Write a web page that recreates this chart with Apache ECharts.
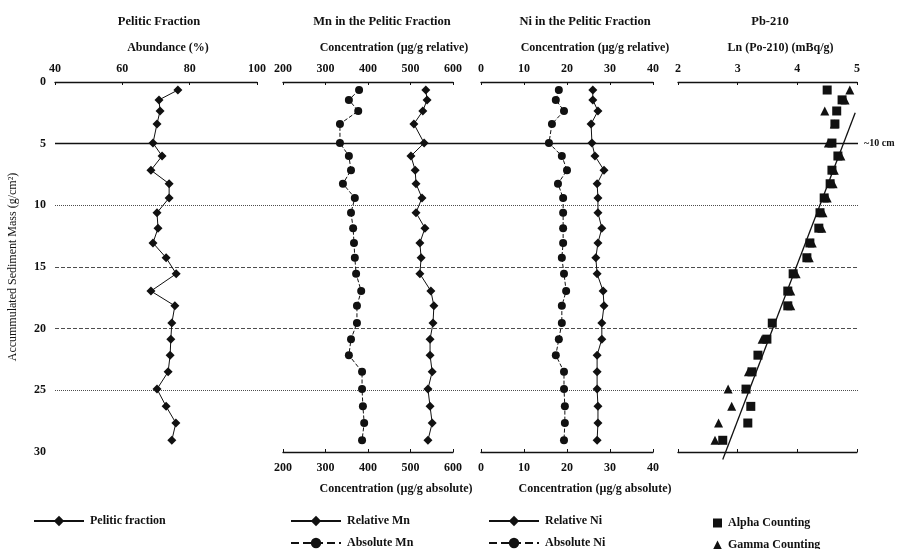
<!DOCTYPE html>
<html><head><meta charset="utf-8">
<script src="https://cdn.jsdelivr.net/npm/echarts@6/dist/echarts.min.js"></script>
<style>html,body{margin:0;padding:0;background:#fff}#c{width:897px;height:549px}</style>
</head><body><div id="c"></div>
<script>
// depth (accumulated sediment mass, g/cm2) shared by all profiles
const depth = [0.65,1.45,2.35,3.4,4.95,6.0,7.15,8.25,9.4,10.6,11.85,13.05,14.25,15.55,16.95,18.15,19.55,20.85,22.15,23.5,24.9,26.3,27.65,29.05];
const pelitic = [76.5,70.9,71.2,70.3,69.1,71.8,68.5,73.9,73.9,70.3,70.6,69.1,73.0,76.0,68.5,75.6,74.7,74.4,74.2,73.6,70.3,73.0,75.9,74.7];
const mnRelative = [536,539,529,508,532,501,511,513,527,513,534,522,525,522,548,555,553,546,546,551,541,546,551,541];
const mnAbsolute = [379,355,377,334,334,355,360,341,369,360,365,367,369,372,384,374,374,360,355,386,386,388,391,386];
const niRelative = [26.0,26.0,27.2,25.6,25.8,26.5,28.6,27.0,27.2,27.2,28.1,27.2,26.7,27.0,28.4,28.6,28.1,28.1,27.0,27.0,27.0,27.2,27.2,27.0];
const niAbsolute = [18.1,17.4,19.3,16.5,15.8,18.8,20.0,17.9,19.1,19.1,19.1,19.1,18.8,19.3,19.8,18.8,18.8,18.1,17.4,19.3,19.3,19.5,19.5,19.3];
const alphaLn = [4.50,4.75,4.66,4.63,4.58,4.68,4.58,4.55,4.45,4.38,4.36,4.21,4.16,3.93,3.84,3.84,3.58,3.49,3.34,3.24,3.14,3.22,3.17,2.75];
const gammaDepth = [0.65,1.45,2.35,3.4,4.95,6.0,7.15,8.25,9.4,10.6,11.85,13.05,14.25,15.55,16.95,18.15,20.85,23.5,24.9,26.3,27.65,29.05];
const gammaLn = [4.88,4.80,4.46,4.62,4.52,4.73,4.62,4.60,4.50,4.43,4.41,4.25,4.20,3.98,3.89,3.89,3.41,3.18,2.84,2.90,2.68,2.62];
const fitLn = [4.97, 2.75];
const fitDepth = [2.5, 30.6];
const yTicks = [0,5,10,15,20,25,30];
const refLines = [5,10,15,20,25];
const refTypes = ['solid','dotted','dashed','dashed','dotted'];

const FONT = 'Liberation Serif';
const INK = '#111';
const zip = (xs, ys) => xs.map((x, i) => [x, ys[i]]);

const grids = [
  {left:55, width:202, top:82, height:370},
  {left:283, width:170, top:82, height:370},
  {left:481, width:172, top:82, height:370},
  {left:678, width:179, top:82, height:370},
  {left:55, right:39, top:82, height:370}
];
const lbl = {fontFamily:FONT, fontWeight:'bold', fontSize:12, color:INK};
function xa(grid, pos, min, max, interval, name, shift, showLabel) {
  return {
    gridIndex:grid, position:pos, type:'value', min:min, max:max, interval:interval,
    name:name, nameLocation:'middle', nameGap: pos==='top'?28:31,
    nameTextStyle:Object.assign({}, lbl, {padding:[0,0,0,shift*2]}),
    axisLine:{show:true, onZero:false, lineStyle:{color:INK, width:1.3}},
    axisTick:{show:true, length:3, inside:true, lineStyle:{color:INK}},
    axisLabel:Object.assign({show:showLabel!==false, margin: pos==='top'?7:10}, lbl),
    splitLine:{show:false}
  };
}
const xAxes = [
  xa(0,'top',40,100,20,'Abundance (%)',12),
  xa(1,'top',200,600,100,'Concentration (µg/g relative)',26),
  xa(1,'bottom',200,600,100,'Concentration (µg/g absolute)',28),
  xa(2,'top',0,40,10,'Concentration (µg/g relative)',28),
  xa(2,'bottom',0,40,10,'Concentration (µg/g absolute)',28),
  xa(3,'top',2,5,1,'Ln (Po-210) (mBq/g)',13),
  xa(3,'bottom',2,5,1,'',0,false),
  {gridIndex:4, type:'value', min:0, max:1, show:false}
];
const yAxes = [0,1,2,3,4].map(g => ({
  gridIndex:g, type:'value', inverse:true, min:0, max:30, interval:5,
  show: g===0,
  name: g===0 ? 'Accummulated Sediment Mass (g/cm²)' : '',
  nameLocation:'middle', nameGap:36, nameRotate:90,
  nameTextStyle:Object.assign({}, lbl, {fontWeight:'normal', fontSize:12}),
  axisLine:{show:false}, axisTick:{show:false}, splitLine:{show:false},
  axisLabel:Object.assign({margin:9}, lbl)
}));

function lineSeries(name, xi, yi, xs, sym, dashed) {
  return {
    name:name, type:'line', xAxisIndex:xi, yAxisIndex:yi, data:zip(xs, depth),
    symbol:sym, symbolSize: sym==='diamond'?9:8,
    itemStyle:{color:INK, opacity:1}, lineStyle:{color:INK, width:1, type: dashed?'dashed':'solid'},
    z:3
  };
}

const legendItems = [
  {name:'Pelitic fraction', left:33, top:515},
  {name:'Relative Mn', left:290, top:515},
  {name:'Absolute Mn', left:290, top:537},
  {name:'Relative Ni', left:488, top:515},
  {name:'Absolute Ni', left:488, top:537},
  {name:'Alpha Counting', left:713, top:517, icon:'rect', w:9},
  {name:'Gamma Counting', left:713, top:539, icon:'triangle', w:9}
];

const option = {
  backgroundColor:'#fff',
  animation:false,
  textStyle:{fontFamily:FONT},
  title:[
    {text:'Pelitic Fraction', left:154, top:10, textAlign:'center'},
    {text:'Mn in the Pelitic Fraction', left:377, top:10, textAlign:'center'},
    {text:'Ni in the Pelitic Fraction', left:580, top:10, textAlign:'center'},
    {text:'Pb-210', left:765, top:10, textAlign:'center'}
  ].map(t => Object.assign(t, {textStyle:Object.assign({}, lbl, {fontSize:12.5})})),
  grid:grids,
  xAxis:xAxes,
  yAxis:yAxes,
  legend: legendItems.map(it => ({
    data:[it.icon ? {name:it.name, icon:it.icon} : it.name],
    left:it.left, top:it.top, padding:0,
    itemWidth: it.w || 50, itemHeight: it.w ? 9 : 13,
    textStyle:Object.assign({}, lbl, {padding:[0,0,0,1]})
  })),
  series:[
    {
      name:'ref', type:'line', xAxisIndex:7, yAxisIndex:4, data:[[0,0]], symbol:'none',
      lineStyle:{opacity:0}, silent:true, z:1,
      markLine:{
        symbol:['none','none'], silent:true, animation:false,
        data: refLines.map((d, i) => ({
          yAxis:d,
          lineStyle:{type:refTypes[i], color:INK, width: i===0?1.3:1, opacity: i===0?1:0.75},
          label: i===0 ? {show:true, position:'end', formatter:'~10 cm', distance:6, fontFamily:FONT, fontWeight:'bold', fontSize:10, color:INK} : {show:false}
        }))
      }
    },
    lineSeries('Pelitic fraction', 0, 0, pelitic, 'diamond', false),
    lineSeries('Relative Mn', 1, 1, mnRelative, 'diamond', false),
    lineSeries('Absolute Mn', 2, 1, mnAbsolute, 'circle', true),
    lineSeries('Relative Ni', 3, 2, niRelative, 'diamond', false),
    lineSeries('Absolute Ni', 4, 2, niAbsolute, 'circle', true),
    {name:'Alpha Counting', type:'scatter', xAxisIndex:5, yAxisIndex:3, data:zip(alphaLn, depth),
     symbol:'rect', symbolSize:9, itemStyle:{color:INK, opacity:1}, z:3},
    {name:'Gamma Counting', type:'scatter', xAxisIndex:5, yAxisIndex:3, data:zip(gammaLn, gammaDepth),
     symbol:'triangle', symbolSize:9, itemStyle:{color:INK, opacity:1}, z:3},
    {name:'fit', type:'line', xAxisIndex:5, yAxisIndex:3, data:zip(fitLn, fitDepth), symbol:'none',
     clip:false, lineStyle:{color:INK, width:1.3}, z:4}
  ]
};
const chart = echarts.init(document.getElementById('c'), null, {renderer:'canvas'});
chart.setOption(option);
</script>
</body></html>
